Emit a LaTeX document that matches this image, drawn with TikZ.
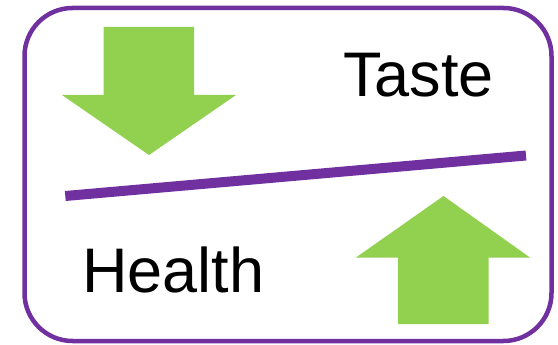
\documentclass[tikz,border=0pt]{standalone}
\usepackage{fontspec}
\setmainfont{Liberation Sans}
\definecolor{frameviolet}{HTML}{7030A0}
\definecolor{arrowgreen}{HTML}{92D050}
\begin{document}
\begin{tikzpicture}[x=1pt,y=-1pt,
  frame/.style={draw=frameviolet,line width=4.5pt,rounded corners=48pt},
  balance/.style={draw=frameviolet,line width=10pt},
  bigarrow/.style={fill=arrowgreen,draw=none},
  label/.style={inner sep=0pt,anchor=base west,font=\fontsize{63}{63}\selectfont}]
\useasboundingbox (0,0) rectangle (558,345);
% outer frame
\draw[frame] (24.5,8) rectangle (551.5,341);
% downward arrow (upper left)
\fill[bigarrow] (103.5,27) -- (194,27) -- (194,95) -- (236,95) -- (149,155)
  -- (62,95) -- (103.5,95) -- cycle;
% upward arrow (lower right)
\fill[bigarrow] (443.5,196) -- (530,257.5) -- (488.5,257.5) -- (488.5,324)
  -- (398,324) -- (398,257.5) -- (356,257.5) -- cycle;
% tilted balance bar
\coordinate (barL) at (65.3,196);
\coordinate (barR) at (526,155.5);
\draw[balance] (barL) -- (barR);
% labels
\node[label] (taste) at (343,97) {Taste};
\node[label] (health) at (82,292) {Health};
\end{tikzpicture}
\end{document}
